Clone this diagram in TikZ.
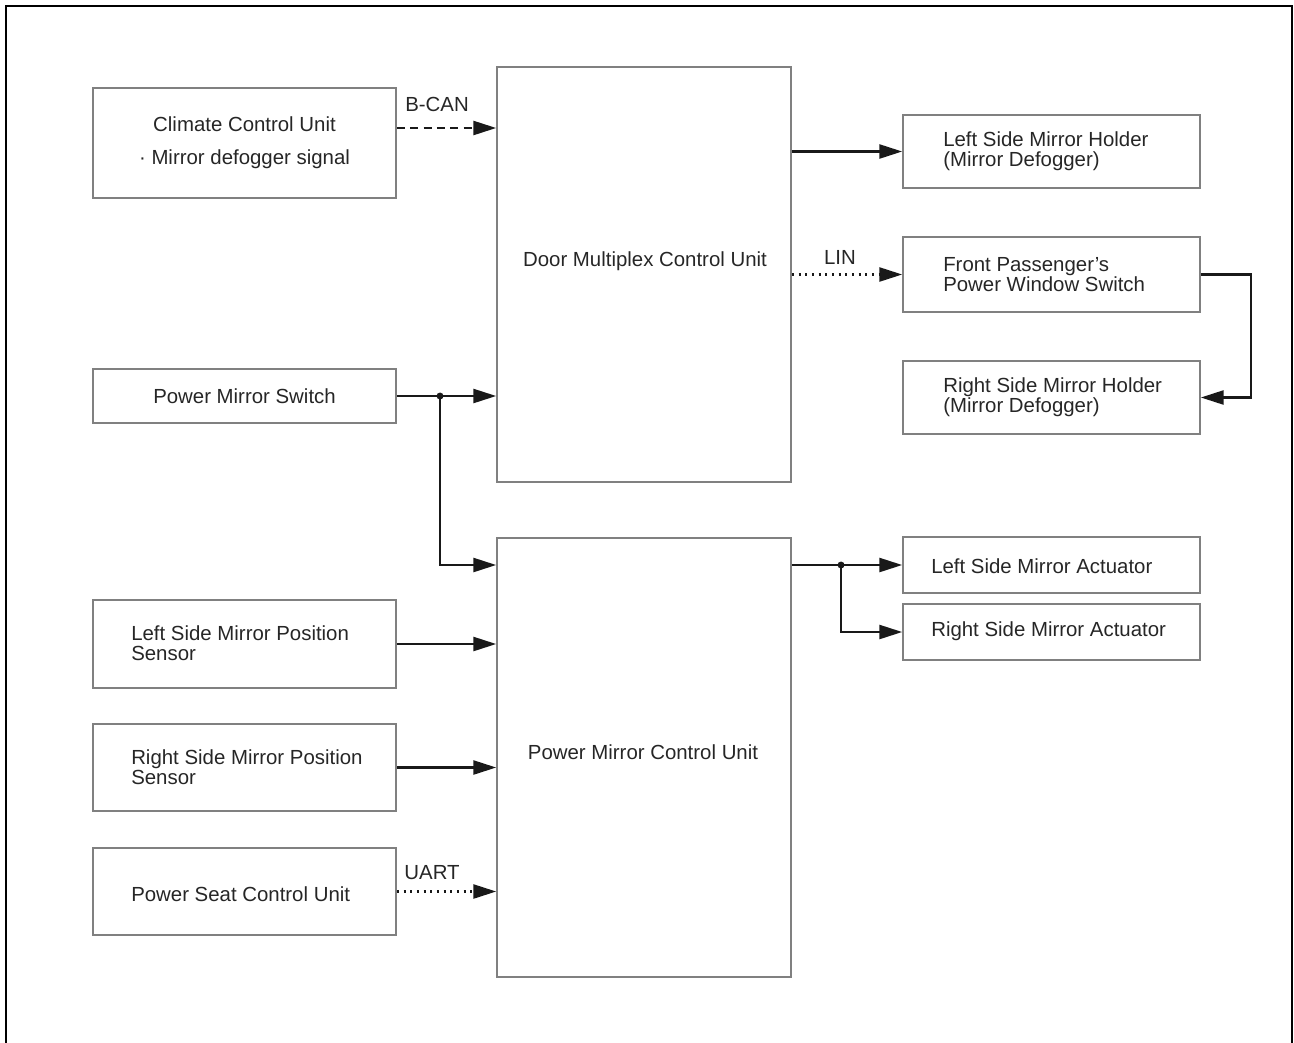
\documentclass[tikz,border=0pt]{standalone}
\usepackage{fontspec}
\setmainfont{Liberation Sans}
\usetikzlibrary{arrows.meta,calc}
\begin{document}
\begin{tikzpicture}[x=0.75pt,y=-0.75pt,
  wh/.style 2 args={minimum width=#1*0.75pt, minimum height=#2*0.75pt},
  box/.style={draw=black!50, line width=1.3pt, inner sep=0pt, text=black!85,
    font=\fontsize{15.3pt}{15pt}\selectfont, align=center},
  lbl/.style={inner sep=0pt, text=black!85, font=\fontsize{15.3pt}{15pt}\selectfont, align=left},
  conn/.style={line width=1.6pt, draw=black!90, -{Triangle[length=17pt,width=10.5pt]}},
  dashconn/.style={conn, dash pattern=on 6pt off 4pt},
  dotconn/.style={conn, dash pattern=on 1.6pt off 3.4pt},
  jdot/.style={fill=black!90}]
\useasboundingbox (0,0) rectangle (1294,1042);
\draw[line width=1.6pt] (6,1046) -- (6,6) -- (1292,6) -- (1292,1046);

% boxes
\node[box, wh={303}{110}] (cc) at (244.5,143) {Climate Control Unit\\[9.75pt]\textperiodcentered\ Mirror defogger signal};
\node[box, wh={294}{415}] (door) at (644,274.5) {};
\node[lbl] (doorT) at (645,261) {Door Multiplex Control Unit};
\node[box, wh={297}{73}] (lh) at (1051.5,151.5) {};
\node[lbl, anchor=west] (lhT) at (943,151) {Left Side Mirror Holder\\(Mirror Defogger)};
\node[box, wh={297}{75}] (fp) at (1051.5,274.5) {};
\node[lbl, anchor=west] (fpT) at (943,274.5) {Front Passenger's\\Power Window Switch};
\node[box, wh={297}{73}] (rh) at (1051.5,397.5) {};
\node[lbl, anchor=west] (rhT) at (943,397) {Right Side Mirror Holder\\(Mirror Defogger)};
\node[box, wh={303}{54}] (pms) at (244.5,396) {Power Mirror Switch};
\node[box, wh={294}{439}] (pmcu) at (644,757.5) {};
\node[lbl] (pmcuT) at (643,752) {Power Mirror Control Unit};
\node[box, wh={297}{56}] (la) at (1051.5,565) {};
\node[lbl, anchor=west] (laT) at (931,566) {Left Side Mirror Actuator};
\node[box, wh={297}{56}] (ra) at (1051.5,632) {};
\node[lbl, anchor=west] (raT) at (931,631) {Right Side Mirror Actuator};
\node[box, wh={303}{88}] (lps) at (244.5,644) {};
\node[lbl, anchor=west] (lpsT) at (131,643) {Left Side Mirror Position\\Sensor};
\node[box, wh={303}{87}] (rps) at (244.5,767.5) {};
\node[lbl, anchor=west] (rpsT) at (131,767) {Right Side Mirror Position\\Sensor};
\node[box, wh={303}{87}] (psc) at (244.5,891.5) {};
\node[lbl, anchor=west] (pscT) at (131,894) {Power Seat Control Unit};

% labels
\node[lbl] (bcan) at (437,104) {B-CAN};
\node[lbl] (lin) at (840,257) {LIN};
\node[lbl] (uart) at (432,873) {UART};

% connectors
\draw[dashconn] (cc.east |- 0,128) -- (door.west |- 0,128);
\draw[conn] (door.east |- lh.west) -- (lh.west);
\draw[dotconn] (door.east |- fp.west) -- (fp.west);
\draw[conn] (fp.east) -- ++(50,0) |- (rh.east);
\coordinate (j1) at (440,396);
\draw[conn] (pms.east) -- (door.west |- pms.east);
\draw[conn] (j1) |- (pmcu.west |- la.west);
\fill[jdot] (j1) circle (2.6pt);
\coordinate (j2) at (841,565);
\draw[conn] (pmcu.east |- la.west) -- (la.west);
\draw[conn] (j2) |- (ra.west);
\fill[jdot] (j2) circle (2.6pt);
\draw[conn] (lps.east) -- (pmcu.west |- lps.east);
\draw[conn] (rps.east) -- (pmcu.west |- rps.east);
\draw[dotconn] (psc.east) -- (pmcu.west |- psc.east);
\end{tikzpicture}
\end{document}
